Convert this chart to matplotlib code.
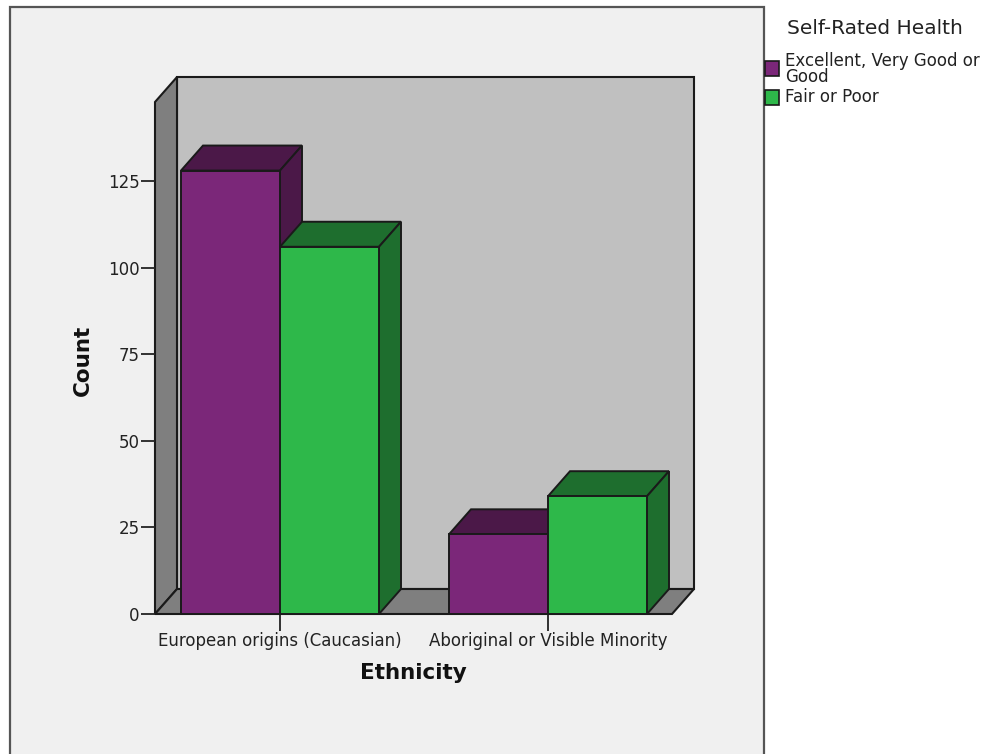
import numpy as np
import matplotlib
matplotlib.use('Agg')
import matplotlib.pyplot as plt
from matplotlib.patches import Polygon, Rectangle

categories = ['European origins (Caucasian)', 'Aboriginal or Visible Minority']
health_groups = ['Excellent, Very Good or\nGood', 'Fair or Poor']
good_counts = [128, 23]
poor_counts = [106, 34]
y_ticks = [0, 25, 50, 75, 100, 125]

front_colors = ['#7b2779', '#2eb84a']
shade_colors = ['#4b1848', '#1e6e2e']
edge = '#1a1a1a'

W, H = 989, 754
fig = plt.figure(figsize=(W / 100, H / 100), dpi=100)
fig.patch.set_facecolor('white')

# grey chart panel with a dark border
fig.add_artist(Rectangle((10 / W, -0.01), (764 - 10) / W, (754 - 7) / H + 0.01,
                         transform=fig.transFigure, facecolor='#f0f0f0',
                         edgecolor='#555555', lw=1.6, zorder=0))

ax = fig.add_axes([155 / W, 1 - 614 / H, (672 - 155) / W, 537 / H])
ax.patch.set_alpha(0)
x0, x1 = -125 / 268, 1 + 124 / 268
ymax = 155
ax.set_xlim(x0, x1)
ax.set_ylim(0, ymax)
for s in ax.spines.values():
    s.set_visible(False)

# depth of the fake 3d box, in data units
dx = 22 / 268
dy = 25 / (537 / ymax)

# walls and floor
ax.add_patch(Polygon([(x0 + dx, dy), (x1 + dx, dy), (x1 + dx, ymax), (x0 + dx, ymax)],
                     closed=True, facecolor='#c0c0c0', edgecolor=edge, lw=1.5,
                     zorder=1, clip_on=False))
ax.add_patch(Polygon([(x0, 0), (x0 + dx, dy), (x0 + dx, ymax), (x0, ymax - dy)],
                     closed=True, facecolor='#7f7f7f', edgecolor=edge, lw=1.5,
                     zorder=1, clip_on=False))
ax.add_patch(Polygon([(x0, 0), (x1, 0), (x1 + dx, dy), (x0 + dx, dy)],
                     closed=True, facecolor='#7f7f7f', edgecolor=edge, lw=1.5,
                     zorder=1, clip_on=False))

pos = np.arange(len(categories))
w = 99 / 268
series = [good_counts, poor_counts]
for i, vals in enumerate(series):
    offs = -w / 2 if i == 0 else w / 2
    bars = ax.bar(pos + offs, vals, width=w, color=front_colors[i],
                  edgecolor=edge, lw=1.4, zorder=3 + 2 * i, clip_on=False)
    for r in bars:
        l, b = r.get_x(), r.get_y()
        rr, h = l + r.get_width(), r.get_height()
        ax.add_patch(Polygon([(l, h), (l + dx, h + dy), (rr + dx, h + dy), (rr, h)],
                             closed=True, facecolor=shade_colors[i], edgecolor=edge,
                             lw=1.4, zorder=2 + 2 * i, clip_on=False))
        ax.add_patch(Polygon([(rr, 0), (rr + dx, dy), (rr + dx, h + dy), (rr, h)],
                             closed=True, facecolor=shade_colors[i], edgecolor=edge,
                             lw=1.4, zorder=2 + 2 * i, clip_on=False))

ax.set_yticks(y_ticks)
ax.set_yticklabels([str(t) for t in y_ticks], fontsize=12, color='#222222')
ax.set_xticks(pos)
ax.set_xticklabels(categories, fontsize=12, color='#222222')
ax.tick_params(axis='y', length=10, width=1.3, color='#222222', pad=1)
ax.tick_params(axis='x', length=12, width=1.3, color='#222222', pad=1)

ax.text((83 - 155) / 517, (614 - 360) / 537, 'Count', transform=ax.transAxes,
        rotation=90, ha='center', va='center', fontsize=15.5, fontweight='bold',
        color='#111111')
ax.text((413 - 155) / 517, (614 - 673) / 537, 'Ethnicity', transform=ax.transAxes,
        ha='center', va='center', fontsize=15.5, fontweight='bold', color='#111111')

# legend
fig.text(787 / W, 1 - 29 / H, 'Self-Rated Health', fontsize=14.5, va='center',
         ha='left', color='#222222')
box_tops = [61, 90]
for i, lab in enumerate(health_groups):
    fig.add_artist(Rectangle((765 / W, 1 - (box_tops[i] + 15) / H), 14 / W, 15 / H,
                             transform=fig.transFigure, facecolor=front_colors[i],
                             edgecolor=edge, lw=1.2))
fig.text(785 / W, 1 - 52 / H, health_groups[0], fontsize=12, va='top', ha='left',
         linespacing=0.85, color='#222222')
fig.text(785 / W, 1 - 88 / H, health_groups[1], fontsize=12, va='top', ha='left',
         color='#222222')

fig.savefig('out.png', dpi=100)
